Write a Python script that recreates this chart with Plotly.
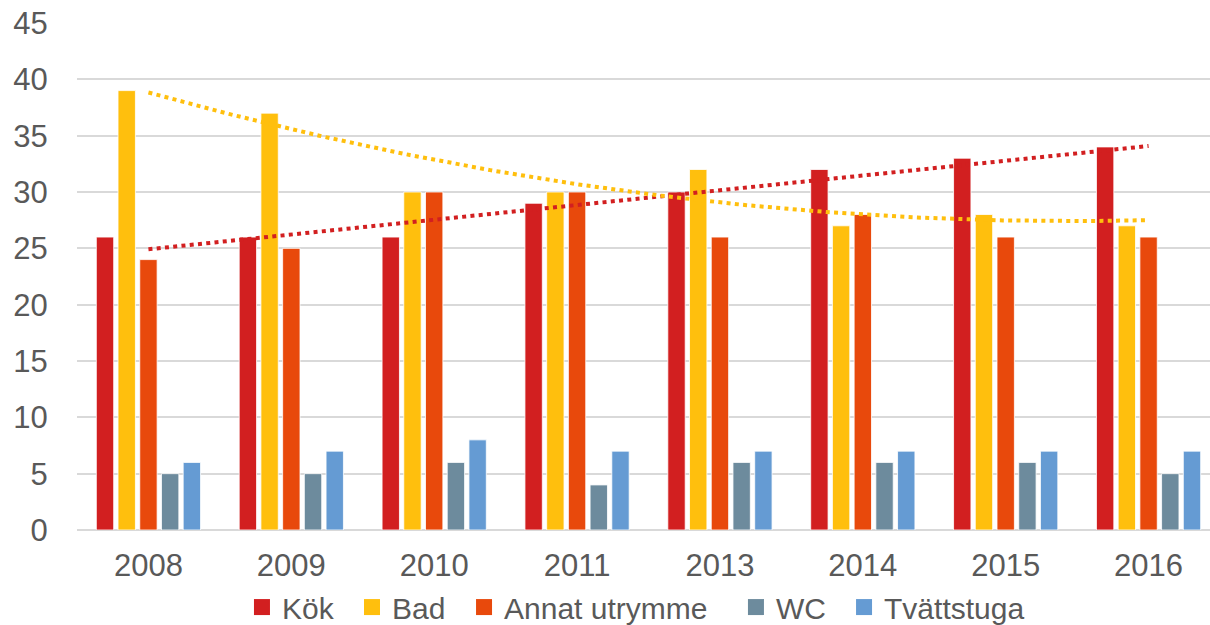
import numpy as np
import plotly.graph_objects as go

years = ["2008", "2009", "2010", "2011", "2013", "2014", "2015", "2016"]
kok = [26, 26, 26, 29, 30, 32, 33, 34]
bad = [39, 37, 30, 30, 32, 27, 28, 27]
annat = [24, 25, 30, 30, 26, 28, 26, 26]
wc = [5, 5, 6, 4, 6, 6, 6, 5]
tvatt = [6, 7, 8, 7, 7, 7, 7, 7]

series = [
    ("Kök", kok, "#D21F20"),
    ("Bad", bad, "#FFBF0D"),
    ("Annat utrymme", annat, "#E8490C"),
    ("WC", wc, "#6D8B9D"),
    ("Tvättstuga", tvatt, "#659BD3"),
]
legend_x = [0.1456, 0.2427, 0.3416, 0.5816, 0.677]
legend_names = ["legend", "legend2", "legend3", "legend4", "legend5"]

xi = np.arange(len(years))
fig = go.Figure()
for (name, vals, col), lg in zip(series, legend_names):
    fig.add_trace(go.Bar(
        x=xi, y=vals, name=name, showlegend=False,
        marker=dict(color=col, line=dict(color="rgba(255,255,255,0.8)", width=1)),
    ))
    # legend entry with a larger square swatch
    fig.add_trace(go.Scatter(
        x=[None], y=[None], mode="markers", name=name, legend=lg,
        marker=dict(symbol="square", size=16, color=col),
    ))

# Trendlines computed from the data (Excel-style: x = 1..n)
xn = xi + 1.0
xf = np.linspace(0, len(years) - 1, 200)
lin = np.polyfit(xn, kok, 1)
quad = np.polyfit(xn, bad, 2)
fig.add_trace(go.Scatter(x=xf, y=np.polyval(lin, xf + 1), mode="lines",
                         line=dict(color="#D21F20", width=4, dash="4px,4.3px"),
                         showlegend=False, hoverinfo="skip"))
fig.add_trace(go.Scatter(x=xf, y=np.polyval(quad, xf + 1), mode="lines",
                         line=dict(color="#FFBF0D", width=4, dash="4px,4.3px"),
                         showlegend=False, hoverinfo="skip"))

font_fam = "Liberation Sans, Arial, sans-serif"
layout_legends = {}
for lg, lx in zip(legend_names, legend_x):
    layout_legends[lg] = dict(orientation="h", x=lx, xanchor="left", y=-0.152,
                              yanchor="middle", font=dict(size=30, color="#595959"),
                              bgcolor="rgba(0,0,0,0)", borderwidth=0)

fig.update_layout(
    width=1210, height=625,
    margin=dict(l=77, r=0, t=23, b=95, autoexpand=False),
    paper_bgcolor="white", plot_bgcolor="white",
    barmode="group", bargap=0.24, bargroupgap=0.2,
    font=dict(family=font_fam, size=31, color="#595959"),
    xaxis=dict(range=[-0.5, 7.43], tickmode="array", tickvals=list(xi), ticktext=years,
               showgrid=False, zeroline=False, showline=False, automargin=False,
               ticks="outside", ticklen=8, tickcolor="rgba(0,0,0,0)",
               tickfont=dict(size=31, color="#595959")),
    yaxis=dict(range=[0, 45], dtick=5, tick0=0, showgrid=True, gridcolor="#D9D9D9",
               gridwidth=1.5, zeroline=True, zerolinecolor="#D9D9D9", zerolinewidth=1.5,
               showline=False, automargin=False, ticks="outside", ticklen=22,
               tickcolor="rgba(0,0,0,0)",
               tickfont=dict(size=31, color="#595959")),
    **layout_legends,
)

fig.write_html(
    "out.html",
    config={"displayModeBar": False},
    post_script="document.body.style.margin='0';document.body.style.overflow='hidden';",
)
